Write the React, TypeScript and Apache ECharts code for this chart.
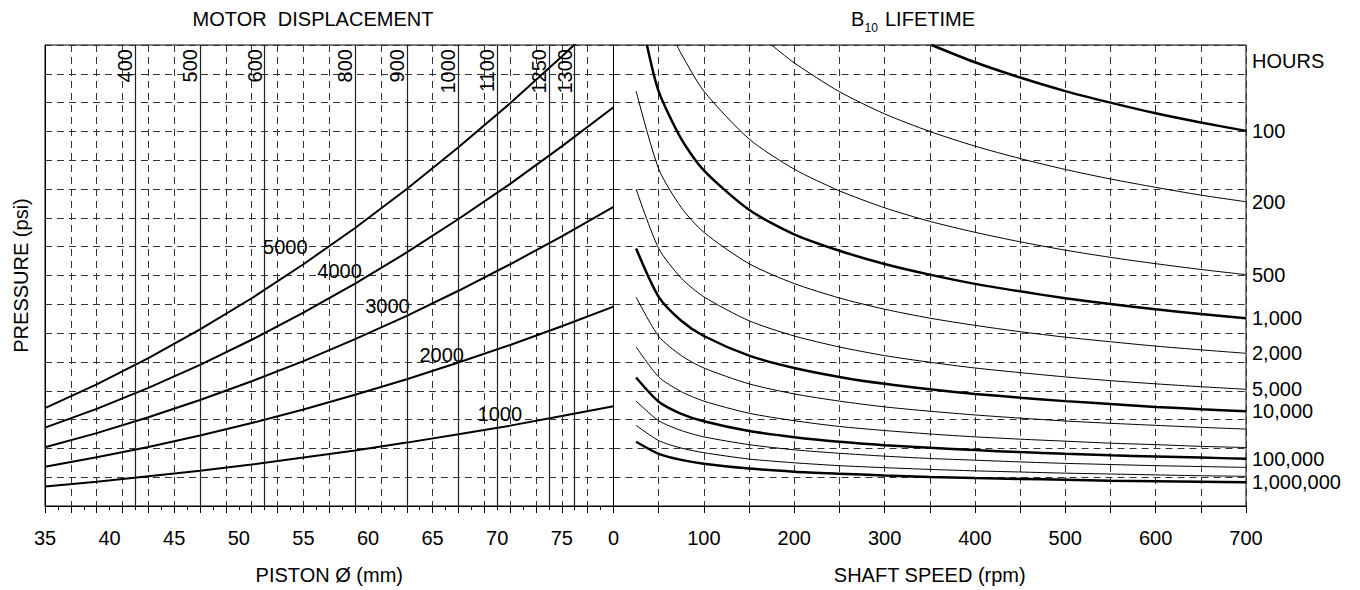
import React, { useEffect, useRef } from "react";
import * as echarts from "echarts";

// ---------- LEFT PANEL: piston diameter (mm) vs load (kN grid) ----------
const pistonDia = [35, 39, 43, 47, 51, 55, 59, 63, 67, 71, 75, 79];
const load1000psi = [6.8, 8.4, 10.3, 12.2, 14.4, 16.8, 19.3, 22.0, 24.9, 27.9, 31.2, 34.6];
const load2000psi = [13.6, 16.9, 20.5, 24.5, 28.8, 33.5, 38.6, 44.0, 49.8, 55.9, 62.4, 69.2];
const load3000psi = [20.4, 25.3, 30.8, 36.8, 43.3, 50.3, 57.9, 66.0, 74.7, 83.9, 93.6, 103.8];
const load4000psi = [27.2, 33.7, 41.0, 49.0, 57.7, 67.1, 77.2, 88.0, 99.6, 111.8, 124.8, 138.4];
const load5000psi = [34.0, 42.2, 51.3, 61.3, 72.1, 83.9, 96.5, 110.0, 124.5, 139.8, 156.0, 173.0];
const pressureLevels = [1000, 2000, 3000, 4000, 5000];
const pressureLabelDia = [70.2, 65.7, 61.5, 57.8, 53.6];
const pressureLabelLoad = [32.1, 52.5, 69.4, 81.5, 89.8];

const displacements = [400, 500, 600, 800, 900, 1000, 1100, 1250, 1300];
const displacementDia = [42, 47, 52, 59, 63, 67, 70, 74, 76];

const leftTickLabels = [35, 40, 45, 50, 55, 60, 65, 70, 75];
const rightTickLabels = [0, 100, 200, 300, 400, 500, 600, 700];

// ---------- RIGHT PANEL: shaft speed (rpm) vs load, B10 life curves ----------
const shaftSpeed = [25, 50, 75, 100, 150, 200, 250, 300, 350, 400, 450, 500, 550, 600, 650, 700];
const life100h = [null, null, null, null, null, null, null, null, null, 154.0, 148.7, 144.0, 140.0, 136.3, 133.1, 130.2];
const life200h = [null, null, null, null, null, 153.8, 143.8, 136.1, 130.0, 124.9, 120.6, 116.8, 113.5, 110.6, 107.9, 105.6];
const life500h = [null, null, 156.9, 144.0, 127.4, 116.9, 109.4, 103.5, 98.8, 95.0, 91.7, 88.8, 86.3, 84.1, 82.1, 80.3];
const life1000h = [null, 143.9, 127.4, 116.5, 102.8, 94.3, 88.6, 84.0, 80.3, 77.1, 74.5, 72.1, 70.1, 68.3, 66.6, 65.2];
const life2000h = [144.0, 117.0, 103.6, 95.0, 84.1, 77.2, 72.2, 68.3, 65.2, 62.7, 60.5, 58.6, 57.0, 55.5, 54.2, 53.0];
const life5000h = [110.0, 89.4, 79.1, 72.6, 64.3, 59.0, 55.2, 52.2, 49.9, 47.9, 46.3, 44.8, 43.5, 42.4, 41.4, 40.5];
const life10000h = [89.4, 72.6, 64.3, 59.0, 52.2, 47.9, 44.8, 42.4, 40.5, 38.9, 37.6, 36.4, 35.4, 34.4, 33.6, 32.9];
const life20000h = [72.5, 58.9, 52.2, 47.9, 42.4, 38.9, 36.4, 34.4, 32.9, 31.6, 30.5, 29.5, 28.7, 28.0, 27.3, 26.7];
const life50000h = [55.2, 44.8, 39.7, 36.4, 32.2, 29.6, 27.6, 26.2, 25.0, 24.0, 23.2, 22.5, 21.8, 21.3, 20.7, 20.3];
const life100000h = [44.6, 36.2, 32.0, 29.4, 26.0, 23.9, 22.3, 21.1, 20.2, 19.4, 18.7, 18.1, 17.6, 17.2, 16.8, 16.4];
const life200000h = [36.4, 29.6, 26.2, 24.0, 21.3, 19.5, 18.3, 17.3, 16.5, 15.9, 15.3, 14.8, 14.4, 14.0, 13.7, 13.4];
const life500000h = [28.0, 22.7, 20.1, 18.5, 16.3, 15.0, 14.0, 13.3, 12.7, 12.2, 11.8, 11.4, 11.1, 10.8, 10.5, 10.3];
const life1000000h = [22.3, 18.1, 16.0, 14.7, 13.0, 11.9, 11.2, 10.6, 10.1, 9.7, 9.4, 9.1, 8.8, 8.6, 8.4, 8.2];
const lifeHours = [100, 200, 500, 1000, 2000, 5000, 10000, 20000, 50000, 100000, 200000, 500000, 1000000];
// speed at which a curve enters through the top edge of the plot
const topEntryHours = [100, 200, 500, 1000];
const topEntrySpeed = [352, 175, 70, 37];
const labelledHours = [100, 200, 500, 1000, 2000, 5000, 10000, 100000, 1000000];
const thickHours = [100, 1000, 10000, 100000, 1000000];

const LOAD_MAX = 160;
const FONT = "'Liberation Sans', Arial, Helvetica, sans-serif";

const fmtThousands = (n: number) => String(n).replace(/\B(?=(\d{3})+(?!\d))/g, ",");

export default function App() {
  const ref = useRef<HTMLDivElement>(null);

  useEffect(() => {
    if (!ref.current) return;
    const chart = echarts.init(ref.current, undefined, { renderer: "svg" });

    const dashed = { color: "#333", width: 1, type: [7, 5] as any };
    const loadsByPressure = [load1000psi, load2000psi, load3000psi, load4000psi, load5000psi];
    const lifeLoads = [
      life100h, life200h, life500h, life1000h, life2000h, life5000h, life10000h,
      life20000h, life50000h, life100000h, life200000h, life500000h, life1000000h,
    ];

    const leftSeries: any[] = pressureLevels.map((p, i) => ({
      type: "line",
      name: "P" + p,
      xAxisIndex: 0,
      yAxisIndex: 0,
      data: pistonDia.map((d, j) => [d, loadsByPressure[i][j]]),
      symbol: "none",
      smooth: false,
      silent: true,
      clip: true,
      lineStyle: { color: "#000", width: 2 },
      z: 3,
    }));

    leftSeries[0].markLine = {
      silent: true,
      symbol: ["none", "none"],
      animation: false,
      lineStyle: { color: "#222", width: 1.2, type: "solid" },
      label: {
        show: true,
        position: "insideEndTop",
        distance: [4, 0],
        fontSize: 20,
        fontFamily: FONT,
        color: "#000",
        formatter: "{b}",
      },
      emphasis: { disabled: true },
      data: displacementDia.map((d, i) => ({ xAxis: d, name: String(displacements[i]) })),
    };

    const pressureLabelSeries = {
      type: "scatter",
      xAxisIndex: 0,
      yAxisIndex: 0,
      symbol: "circle",
      symbolSize: 2,
      itemStyle: { color: "rgba(0,0,0,0)" },
      silent: true,
      z: 4,
      label: {
        show: true,
        position: "inside",
        formatter: "{b}",
        fontSize: 20,
        fontFamily: FONT,
        color: "#000",
        opacity: 1,
      },
      data: pressureLevels.map((p, i) => ({
        name: String(p),
        value: [pressureLabelDia[i], pressureLabelLoad[i]],
      })),
    };

    const rightSeries = lifeHours.map((h, i) => {
      const vals = lifeLoads[i];
      const pts: number[][] = [];
      const e = topEntryHours.indexOf(h);
      if (e >= 0) pts.push([topEntrySpeed[e], LOAD_MAX]);
      shaftSpeed.forEach((s, j) => {
        if (vals[j] != null) pts.push([s, vals[j] as number]);
      });
      const labelled = labelledHours.includes(h);
      return {
        type: "line",
        name: "L" + h,
        xAxisIndex: 2,
        yAxisIndex: 1,
        data: pts,
        symbol: "none",
        smooth: 0.25,
        silent: true,
        clip: true,
        lineStyle: { color: "#000", width: thickHours.includes(h) ? 2.5 : 1 },
        endLabel: {
          show: labelled,
          formatter: fmtThousands(h),
          color: "#000",
          fontSize: 20,
          fontFamily: FONT,
          distance: 6,
        },
        z: 3,
      };
    });

    chart.setOption({
      animation: false,
      textStyle: { fontFamily: FONT },
      grid: [
        { left: 45, top: 45, right: 746.5, bottom: 81.7, show: true, borderColor: "#000", borderWidth: 1, backgroundColor: "transparent", containLabel: false },
        { left: 613.5, top: 45, right: 114, bottom: 81.7, show: true, borderColor: "#000", borderWidth: 1, backgroundColor: "transparent", containLabel: false },
      ],
      xAxis: [
        {
          gridIndex: 0,
          type: "value",
          position: "bottom",
          min: 35,
          max: 79,
          interval: 5,
          axisLine: { show: true, lineStyle: { color: "#000", width: 1 } },
          axisTick: { show: false },
          splitLine: { show: false },
          axisLabel: {
            show: true,
            color: "#000",
            fontSize: 20,
            fontFamily: FONT,
            margin: 22,
            showMaxLabel: false,
            formatter: (v: number) => (leftTickLabels.includes(v) ? String(v) : ""),
          },
          name: "PISTON Ø (mm)",
          nameLocation: "middle",
          nameGap: 59,
          nameTextStyle: { color: "#000", fontSize: 20, fontFamily: FONT },
        },
        {
          gridIndex: 0,
          type: "value",
          position: "bottom",
          min: 35,
          max: 79,
          interval: 2,
          axisLine: { show: false },
          axisTick: { show: true, length: 7, lineStyle: { color: "#000", width: 1 } },
          minorTick: { show: true, splitNumber: 2, length: 4, lineStyle: { color: "#000", width: 1 } },
          axisLabel: { show: false },
          splitLine: { show: true, lineStyle: dashed },
        },
        {
          gridIndex: 1,
          type: "value",
          position: "bottom",
          min: 0,
          max: 700,
          interval: 50,
          axisLine: { show: true, lineStyle: { color: "#000", width: 1 } },
          axisTick: { show: true, length: 7, lineStyle: { color: "#000", width: 1 } },
          splitLine: { show: true, lineStyle: dashed },
          axisLabel: {
            show: true,
            color: "#000",
            fontSize: 20,
            fontFamily: FONT,
            margin: 22,
            formatter: (v: number) => (rightTickLabels.includes(v) ? String(v) : ""),
          },
          name: "SHAFT SPEED (rpm)",
          nameLocation: "middle",
          nameGap: 59,
          nameTextStyle: { color: "#000", fontSize: 20, fontFamily: FONT },
        },
      ],
      yAxis: [
        {
          gridIndex: 0,
          type: "value",
          min: 0,
          max: LOAD_MAX,
          interval: 10,
          axisLine: { show: true, lineStyle: { color: "#000", width: 1 } },
          axisTick: { show: false },
          axisLabel: { show: false },
          splitLine: { show: true, lineStyle: dashed },
          name: "PRESSURE (psi)",
          nameLocation: "middle",
          nameGap: 14,
          nameRotate: 90,
          nameTextStyle: { color: "#000", fontSize: 20, fontFamily: FONT },
        },
        {
          gridIndex: 1,
          type: "value",
          min: 0,
          max: LOAD_MAX,
          interval: 10,
          axisLine: { show: true, lineStyle: { color: "#000", width: 1 } },
          axisTick: { show: false },
          axisLabel: { show: false },
          splitLine: { show: true, lineStyle: dashed },
        },
      ],
      graphic: [
        {
          type: "text",
          x: 313,
          y: 19,
          silent: true,
          style: { text: "MOTOR\u00a0 DISPLACEMENT", fontSize: 20, fontFamily: FONT, fill: "#000", align: "center", verticalAlign: "middle" },
        },
        {
          type: "text",
          x: 851,
          y: 19,
          silent: true,
          style: { text: "B", fontSize: 20, fontFamily: FONT, fill: "#000", align: "left", verticalAlign: "middle" },
        },
        {
          type: "text",
          x: 864.5,
          y: 27.5,
          silent: true,
          style: { text: "10", fontSize: 12, fontFamily: FONT, fill: "#000", align: "left", verticalAlign: "middle" },
        },
        {
          type: "text",
          x: 885,
          y: 19,
          silent: true,
          style: { text: "LIFETIME", fontSize: 20, fontFamily: FONT, fill: "#000", align: "left", verticalAlign: "middle" },
        },
        {
          type: "text",
          x: 1252,
          y: 61,
          silent: true,
          style: { text: "HOURS", fontSize: 20, fontFamily: FONT, fill: "#000", align: "left", verticalAlign: "middle" },
        },
      ],
      series: [...leftSeries, pressureLabelSeries, ...rightSeries],
    });

    return () => chart.dispose();
  }, []);

  return (
    <div
      ref={ref}
      style={{ position: "fixed", left: 0, top: 0, width: 1360, height: 590, background: "#fff" }}
    />
  );
}
